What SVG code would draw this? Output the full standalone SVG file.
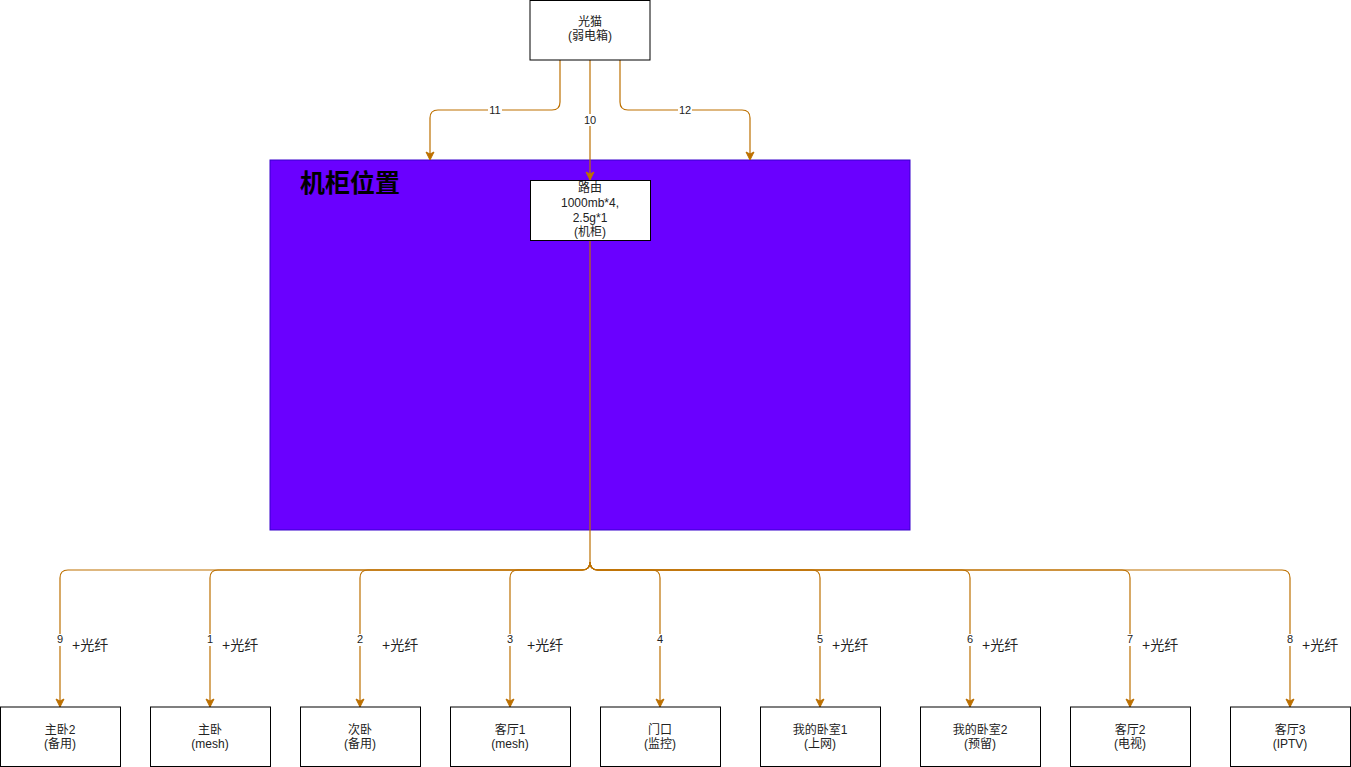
<svg xmlns="http://www.w3.org/2000/svg" width="1351" height="767" viewBox="0 0 1351 767">
<style>
.box{fill:#fff;stroke:#000;stroke-width:1}
.t{font-family:"Liberation Sans","Noto Sans CJK SC",sans-serif;font-size:12px;fill:#222;text-anchor:middle}
.e{fill:none;stroke:#BD7000;stroke-width:1.2}
.lbl{font-family:"Liberation Sans","Noto Sans CJK SC",sans-serif;font-size:11px;fill:#222;text-anchor:middle}
.lb{fill:#fff}
.fx{font-family:"Liberation Sans","Noto Sans CJK SC",sans-serif;font-size:14px;fill:#222}
</style>
<defs>
<marker id="arr" markerUnits="userSpaceOnUse" markerWidth="10" markerHeight="10" viewBox="0 0 10 10" refX="9" refY="5" orient="auto">
<path d="M1,1 L9,5 L1,9 L3,5 z" fill="#BD7000" stroke="#BD7000" stroke-width="1"/>
</marker>
</defs>
<rect width="1351" height="767" fill="#fff"/>
<g id="cabinet">
<rect x="270" y="160" width="640" height="370" fill="#6a00ff" stroke="#3700cc"/>
<text x="300" y="192" font-family="'Liberation Sans','Noto Sans CJK SC',sans-serif" font-size="25" font-weight="bold" fill="#000">机柜位置</text>
</g>
<g id="connectors">
<path class="e" d="M560,60 V102 Q560,110 552,110 H438 Q430,110 430,118 V160" marker-end="url(#arr)"/>
<path class="e" d="M590,60 V180" marker-end="url(#arr)"/>
<path class="e" d="M620,60 V102 Q620,110 628,110 H742 Q750,110 750,118 V160" marker-end="url(#arr)"/>
<path class="e" d="M590,240 V562"/>
<path class="e" d="M590,562 Q590,570 582,570 H68 Q60,570 60,578 V707" marker-end="url(#arr)"/>
<path class="e" d="M590,562 Q590,570 582,570 H218 Q210,570 210,578 V707" marker-end="url(#arr)"/>
<path class="e" d="M590,562 Q590,570 582,570 H368 Q360,570 360,578 V707" marker-end="url(#arr)"/>
<path class="e" d="M590,562 Q590,570 582,570 H518 Q510,570 510,578 V707" marker-end="url(#arr)"/>
<path class="e" d="M590,562 Q590,570 598,570 H652 Q660,570 660,578 V707" marker-end="url(#arr)"/>
<path class="e" d="M590,562 Q590,570 598,570 H812 Q820,570 820,578 V707" marker-end="url(#arr)"/>
<path class="e" d="M590,562 Q590,570 598,570 H962 Q970,570 970,578 V707" marker-end="url(#arr)"/>
<path class="e" d="M590,562 Q590,570 598,570 H1122 Q1130,570 1130,578 V707" marker-end="url(#arr)"/>
<path class="e" d="M590,562 Q590,570 598,570 H1282 Q1290,570 1290,578 V707" marker-end="url(#arr)"/>
<rect class="lb" x="488" y="104" width="14" height="12"/><text class="lbl" x="495" y="114">11</text>
<rect class="lb" x="583" y="114" width="14" height="12"/><text class="lbl" x="590" y="124">10</text>
<rect class="lb" x="678" y="104" width="14" height="12"/><text class="lbl" x="685" y="114">12</text>
<rect class="lb" x="55" y="634" width="10" height="12"/><text class="lbl" x="60" y="643">9</text>
<rect class="lb" x="205" y="634" width="10" height="12"/><text class="lbl" x="210" y="643">1</text>
<rect class="lb" x="355" y="634" width="10" height="12"/><text class="lbl" x="360" y="643">2</text>
<rect class="lb" x="505" y="634" width="10" height="12"/><text class="lbl" x="510" y="643">3</text>
<rect class="lb" x="655" y="634" width="10" height="12"/><text class="lbl" x="660" y="643">4</text>
<rect class="lb" x="815" y="634" width="10" height="12"/><text class="lbl" x="820" y="643">5</text>
<rect class="lb" x="965" y="634" width="10" height="12"/><text class="lbl" x="970" y="643">6</text>
<rect class="lb" x="1125" y="634" width="10" height="12"/><text class="lbl" x="1130" y="643">7</text>
<rect class="lb" x="1285" y="634" width="10" height="12"/><text class="lbl" x="1290" y="643">8</text>
</g>
<g id="fiber-labels">
<text class="fx" x="72" y="650">+光纤</text>
<text class="fx" x="222" y="650">+光纤</text>
<text class="fx" x="382" y="650">+光纤</text>
<text class="fx" x="527" y="650">+光纤</text>
<text class="fx" x="832" y="650">+光纤</text>
<text class="fx" x="982" y="650">+光纤</text>
<text class="fx" x="1142" y="650">+光纤</text>
<text class="fx" x="1302" y="650">+光纤</text>
</g>
<g id="modem"><rect class="box" x="530" y="0.5" width="120" height="59.5"/><text class="t" x="590" y="26">光猫</text><text class="t" x="590" y="40">(弱电箱)</text></g>
<g id="router"><rect class="box" x="530.5" y="180.5" width="120" height="60"/><text class="t" x="590" y="192">路由</text><text class="t" x="590" y="207">1000mb*4,</text><text class="t" x="590" y="222">2.5g*1</text><text class="t" x="590" y="236">(机柜)</text></g>
<g id="n9"><rect class="box" x="0.5" y="707" width="120" height="59.5"/><text class="t" x="60" y="734">主卧2</text><text class="t" x="60" y="748">(备用)</text></g>
<g id="n1"><rect class="box" x="150.5" y="707" width="120" height="59.5"/><text class="t" x="210" y="734">主卧</text><text class="t" x="210" y="748">(mesh)</text></g>
<g id="n2"><rect class="box" x="300.5" y="707" width="120" height="59.5"/><text class="t" x="360" y="734">次卧</text><text class="t" x="360" y="748">(备用)</text></g>
<g id="n3"><rect class="box" x="450.5" y="707" width="120" height="59.5"/><text class="t" x="510" y="734">客厅1</text><text class="t" x="510" y="748">(mesh)</text></g>
<g id="n4"><rect class="box" x="600.5" y="707" width="120" height="59.5"/><text class="t" x="660" y="734">门口</text><text class="t" x="660" y="748">(监控)</text></g>
<g id="n5"><rect class="box" x="760.5" y="707" width="120" height="59.5"/><text class="t" x="820" y="734">我的卧室1</text><text class="t" x="820" y="748">(上网)</text></g>
<g id="n6"><rect class="box" x="920.5" y="707" width="120" height="59.5"/><text class="t" x="980" y="734">我的卧室2</text><text class="t" x="980" y="748">(预留)</text></g>
<g id="n7"><rect class="box" x="1070.5" y="707" width="120" height="59.5"/><text class="t" x="1130" y="734">客厅2</text><text class="t" x="1130" y="748">(电视)</text></g>
<g id="n8"><rect class="box" x="1230.5" y="707" width="120" height="59.5"/><text class="t" x="1290" y="734">客厅3</text><text class="t" x="1290" y="748">(IPTV)</text></g>
</svg>
